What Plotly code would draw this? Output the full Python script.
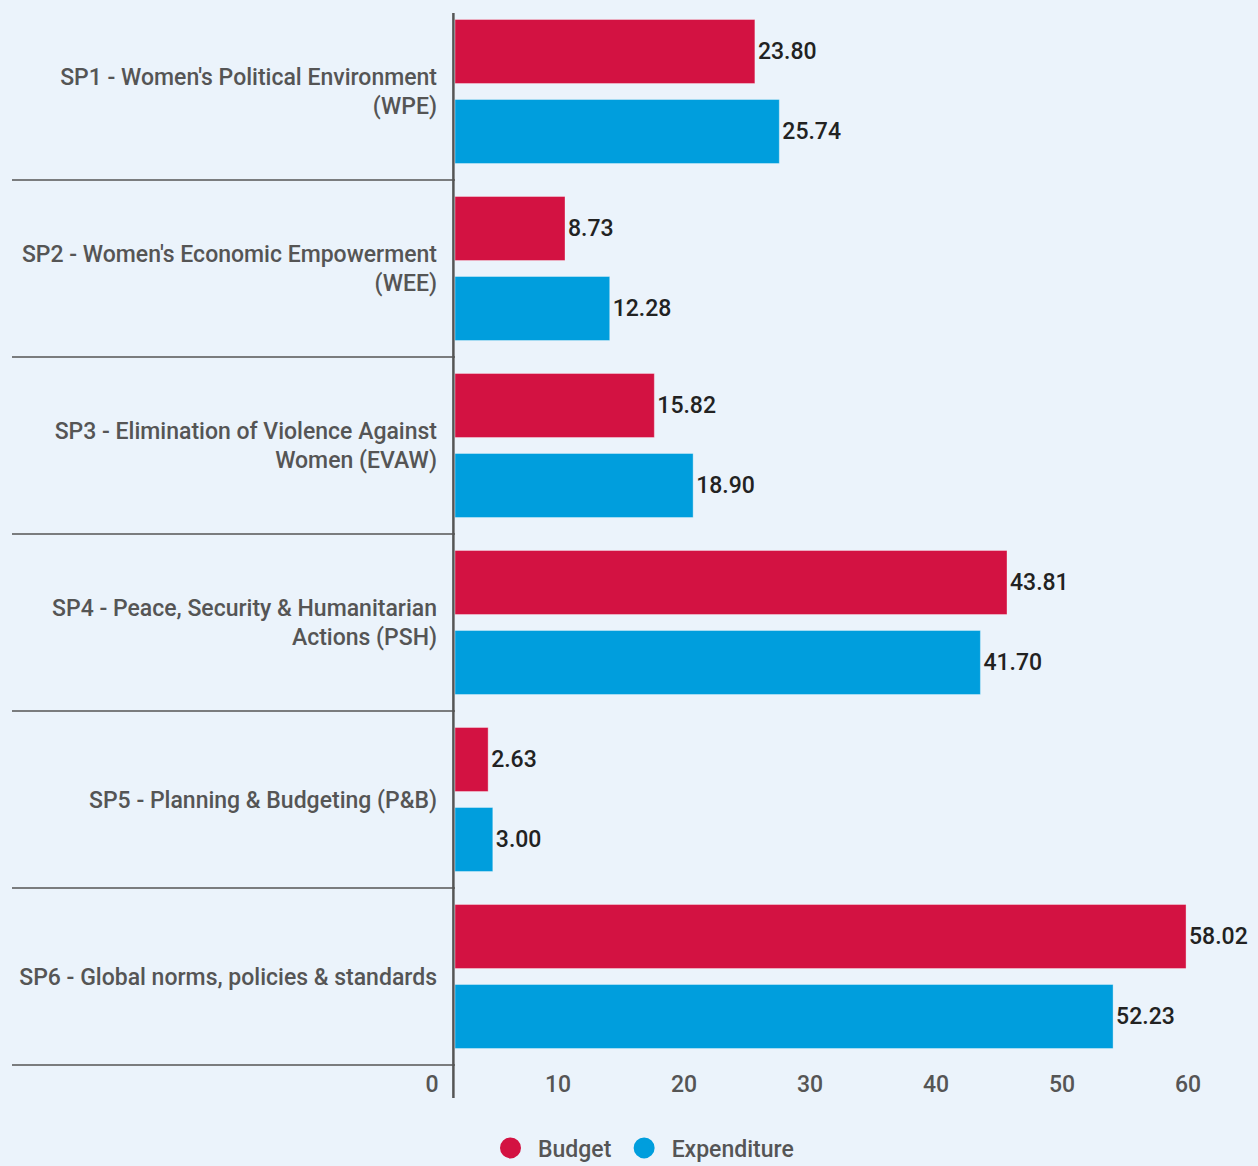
import plotly.graph_objects as go

categories = [
    "SP1 - Women's Political Environment<br>(WPE)",
    "SP2 - Women's Economic Empowerment<br>(WEE)",
    "SP3 - Elimination of Violence Against<br>Women (EVAW)",
    "SP4 - Peace, Security & Humanitarian<br>Actions (PSH)",
    "SP5 - Planning & Budgeting (P&B)",
    "SP6 - Global norms, policies & standards",
]
budget = [23.80, 8.73, 15.82, 43.81, 2.63, 58.02]
expenditure = [25.74, 12.28, 18.90, 41.70, 3.00, 52.23]
x_ticks = [0, 10, 20, 30, 40, 50, 60]

RED = "#D31242"
BLUE = "#009EDD"
BG = "#EBF3FB"
W, H = 1258, 1166
ML, MR, MT, MB = 455, 0, 3, 101
PW, PH = W - ML - MR, H - MT - MB
FS = 23

fig = go.Figure()
for name, vals, col in [("Budget", budget, RED), ("Expenditure", expenditure, BLUE)]:
    fig.add_trace(go.Bar(
        y=categories, x=vals, orientation="h", name=name,
        marker=dict(color=col, line=dict(color="rgba(255,255,255,0.35)", width=1)),
        texttemplate="%{x:.2f}", textposition="outside",
        textfont=dict(size=FS, color="#222222", family="Roboto", weight=500),
        cliponaxis=False, showlegend=False, hoverinfo="x+name",
    ))
    fig.add_trace(go.Scatter(
        x=[None], y=[None], mode="markers", name=name,
        marker=dict(symbol="circle", size=16, color=col, line=dict(color=col, width=5)),
    ))

shapes = []
n = len(categories)
for i in range(n):
    yb = 1 - (i + 1) / n
    shapes.append(dict(type="line", xref="paper", yref="paper",
                       x0=(12 - ML) / PW, x1=0, y0=yb, y1=yb,
                       line=dict(color="#555555", width=1.5)))
shapes.append(dict(type="line", xref="paper", yref="paper",
                   x0=-0.002, x1=-0.002,
                   y0=(MT + PH - 1098) / PH, y1=(MT + PH - 13) / PH,
                   line=dict(color="#555555", width=2.5)))

fig.update_layout(
    width=W, height=H,
    margin=dict(l=ML, r=MR, t=MT, b=MB, pad=0, autoexpand=False),
    paper_bgcolor=BG, plot_bgcolor=BG,
    font=dict(family="Roboto", size=FS, color="#555555", weight=500),
    barmode="group", bargap=0.096, bargroupgap=0.2,
    shapes=shapes,
    xaxis=dict(range=[0, 63.73], tickvals=x_ticks, ticktext=[str(v) for v in x_ticks],
               showgrid=False, zeroline=False, showline=False,
               ticklabelshift=-23, ticklabelstandoff=3,
               tickfont=dict(size=FS, color="#555555", weight=500)),
    yaxis=dict(autorange="reversed", showgrid=False, zeroline=False, showline=False,
               ticklabelstandoff=17,
               tickfont=dict(size=FS, color="#555555", weight=500)),
    legend=dict(orientation="h", xref="paper", yref="paper",
                x=(641 - ML) / PW, xanchor="center",
                y=(MT + PH - 1148) / PH, yanchor="middle", itemwidth=45,
                font=dict(size=FS, color="#555555", weight=500), bgcolor="rgba(0,0,0,0)"),
)

fig.write_html("out.html", config={"displayModeBar": False},
               post_script="document.body.style.margin='0';")
